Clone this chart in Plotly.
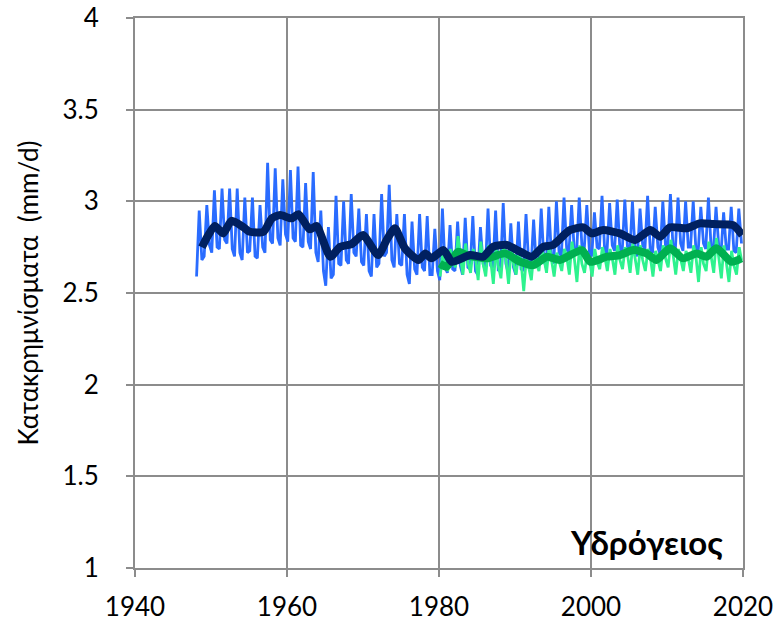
import plotly.graph_objects as go

# thin blue series (1948-2019): per-year early low, peak, late low
blue_start = 1948
blue_hi = [2.95, 2.98, 3.06, 3.07, 3.07, 3.07, 3.02, 3.02, 2.98, 3.21,
           3.18, 3.12, 3.17, 3.19, 3.10, 3.16, 2.95, 2.86, 3.03, 3.00,
           3.04, 2.96, 2.93, 2.93, 3.04, 3.09, 2.93, 2.93, 2.89, 2.93,
           2.92, 2.85, 2.96, 2.87, 2.89, 2.91, 2.92, 2.86, 2.96, 2.95,
           2.99, 2.88, 2.89, 2.93, 2.90, 2.96, 2.97, 3.00, 3.02, 2.98,
           3.02, 2.98, 2.94, 3.03, 2.99, 3.01, 3.01, 3.00, 2.96, 3.03,
           2.97, 3.00, 3.04, 3.02, 3.00, 3.00, 2.97, 3.02, 2.97, 2.94,
           2.97, 2.96]
blue_lo_a = [2.59, 2.70, 2.72, 2.74, 2.77, 2.70, 2.68, 2.73, 2.69, 2.72,
             2.77, 2.76, 2.78, 2.78, 2.75, 2.74, 2.67, 2.54, 2.60, 2.65,
             2.66, 2.70, 2.65, 2.59, 2.66, 2.72, 2.64, 2.65, 2.55, 2.60,
             2.62, 2.60, 2.57, 2.61, 2.62, 2.60, 2.63, 2.60, 2.62, 2.64,
             2.63, 2.61, 2.60, 2.62, 2.63, 2.65, 2.64, 2.66, 2.70, 2.72,
             2.71, 2.73, 2.70, 2.74, 2.72, 2.73, 2.72, 2.71, 2.70, 2.74,
             2.72, 2.71, 2.75, 2.74, 2.73, 2.75, 2.72, 2.74, 2.73, 2.71,
             2.74, 2.72]
blue_lo_b = [2.68, 2.76, 2.75, 2.79, 2.74, 2.72, 2.72, 2.70, 2.75, 2.79,
             2.80, 2.82, 2.80, 2.76, 2.78, 2.72, 2.62, 2.58, 2.66, 2.68,
             2.72, 2.67, 2.62, 2.64, 2.70, 2.68, 2.66, 2.60, 2.63, 2.64,
             2.60, 2.62, 2.64, 2.63, 2.65, 2.64, 2.62, 2.66, 2.65, 2.62,
             2.66, 2.64, 2.63, 2.66, 2.65, 2.68, 2.70, 2.72, 2.74, 2.73,
             2.76, 2.72, 2.75, 2.73, 2.76, 2.74, 2.75, 2.73, 2.76, 2.73,
             2.75, 2.76, 2.74, 2.77, 2.75, 2.74, 2.77, 2.75, 2.76, 2.74,
             2.73, 2.77]

# thin green series (1980-2019)
green_start = 1980
green_hi = [2.72, 2.74, 2.81, 2.77, 2.74, 2.78, 2.76, 2.75, 2.77, 2.74,
            2.72, 2.70, 2.73, 2.75, 2.76, 2.72, 2.74, 2.78, 2.76, 2.72,
            2.74, 2.75, 2.74, 2.76, 2.75, 2.77, 2.76, 2.74, 2.73, 2.76,
            2.79, 2.74, 2.73, 2.76, 2.75, 2.78, 2.80, 2.76, 2.73, 2.75]
green_lo = [2.59, 2.62, 2.64, 2.60, 2.61, 2.57, 2.59, 2.55, 2.58, 2.55,
            2.60, 2.51, 2.57, 2.62, 2.61, 2.59, 2.62, 2.60, 2.56, 2.61,
            2.59, 2.63, 2.62, 2.60, 2.63, 2.61, 2.60, 2.62, 2.59, 2.62,
            2.64, 2.60, 2.62, 2.61, 2.56, 2.62, 2.61, 2.58, 2.56, 2.60]
green_mid = [2.66, 2.68, 2.70, 2.67, 2.69, 2.66, 2.68, 2.65, 2.69, 2.66,
             2.67, 2.63, 2.66, 2.69, 2.68, 2.67, 2.70, 2.69, 2.66, 2.68,
             2.67, 2.70, 2.69, 2.68, 2.71, 2.69, 2.68, 2.70, 2.67, 2.69,
             2.71, 2.68, 2.69, 2.70, 2.66, 2.70, 2.69, 2.67, 2.65, 2.68]

# smoothed series
navy_t = [1948.8, 1950.5, 1951.6, 1952.7, 1954.3, 1955.1, 1956.9, 1958.0, 1959.1, 1960.6,
          1961.5, 1963.0, 1963.9, 1965.7, 1967.0, 1968.5, 1970.0, 1972.0, 1973.1, 1974.2,
          1975.5, 1977.3, 1978.2, 1979.0, 1980.6, 1981.7, 1984.1, 1985.8, 1987.1, 1988.9,
          1990.7, 1992.2, 1993.7, 1995.0, 1997.2, 1999.0, 2000.1, 2001.6, 2003.8, 2005.8,
          2007.8, 2009.1, 2010.4, 2012.6, 2014.3, 2016.1, 2018.7, 2019.9]
navy_v = [2.75, 2.865, 2.825, 2.894, 2.858, 2.834, 2.834, 2.907, 2.925, 2.907,
          2.93, 2.847, 2.865, 2.698, 2.752, 2.767, 2.816, 2.707, 2.789, 2.853,
          2.744, 2.68, 2.716, 2.689, 2.734, 2.67, 2.707, 2.698, 2.752, 2.762,
          2.725, 2.698, 2.752, 2.762, 2.843, 2.858, 2.825, 2.843, 2.825, 2.789,
          2.843, 2.807, 2.858, 2.853, 2.88, 2.876, 2.87, 2.816]

gsm_t = [1980.1, 1981.0, 1982.5, 1983.6, 1986.3, 1988.7, 1990.7, 1992.4, 1994.2, 1995.9,
         1998.8, 1999.9, 2002.1, 2003.8, 2005.6, 2007.3, 2008.6, 2010.4, 2012.1, 2013.9,
         2015.2, 2016.5, 2018.5, 2019.8]
gsm_v = [2.66, 2.643, 2.725, 2.707, 2.689, 2.716, 2.67, 2.652, 2.698, 2.68,
         2.734, 2.67, 2.698, 2.707, 2.734, 2.716, 2.68, 2.744, 2.689, 2.716,
         2.698, 2.744, 2.67, 2.689]


def zigzag(start, lists, offsets):
    xs, ys = [], []
    for i in range(len(lists[0])):
        for vals, off in zip(lists, offsets):
            xs.append(start + i + off)
            ys.append(vals[i])
    return xs, ys


bx, by = zigzag(blue_start, [blue_lo_a, blue_hi, blue_lo_b], [0.1, 0.45, 0.8])
gx, gy = zigzag(green_start, [green_lo, green_hi, green_mid], [0.15, 0.5, 0.8])

fig = go.Figure()
fig.add_trace(go.Scatter(x=bx, y=by, mode="lines",
                         line=dict(color="#2a6cff", width=2.8)))
fig.add_trace(go.Scatter(x=gx, y=gy, mode="lines",
                         line=dict(color="#2ef28e", width=2.8)))
fig.add_trace(go.Scatter(x=gsm_t, y=gsm_v, mode="lines",
                         line=dict(color="#00b050", width=8, shape="spline", smoothing=0.6)))
fig.add_trace(go.Scatter(x=navy_t, y=navy_v, mode="lines",
                         line=dict(color="#002060", width=8, shape="spline", smoothing=0.6)))

grid = "#8c8c8c"
fig.update_layout(
    width=782, height=625,
    margin=dict(l=135, r=39, t=18, b=57),
    plot_bgcolor="white", paper_bgcolor="white",
    showlegend=False,
    font=dict(family="Lato, Noto Sans, sans-serif", size=26, color="black"),
)
fig.update_xaxes(range=[1940, 2020], tickvals=[1940, 1960, 1980, 2000, 2020],
                 showgrid=True, gridcolor=grid, gridwidth=2,
                 showline=True, linecolor=grid, linewidth=2, mirror=True,
                 ticks="outside", ticklen=7, tickcolor=grid, tickwidth=2,
                 zeroline=False, tickfont=dict(size=26), automargin=False,
                 ticklabelstandoff=8, ticklabeloverflow="allow")
fig.update_yaxes(range=[1, 4], tickvals=[1, 1.5, 2, 2.5, 3, 3.5, 4],
                 ticktext=["1", "1.5", "2", "2.5", "3", "3.5", "4"],
                 showgrid=True, gridcolor=grid, gridwidth=2,
                 showline=True, linecolor=grid, linewidth=2, mirror=True,
                 ticks="outside", ticklen=7, tickcolor=grid, tickwidth=2,
                 zeroline=False, tickfont=dict(size=26), automargin=False,
                 ticklabelstandoff=22, ticklabeloverflow="allow",
                 title=dict(text="Κατακρημνίσματα  (mm/d)", font=dict(size=26), standoff=16))
fig.add_annotation(text="<b>Υδρόγειος</b>", xref="paper", yref="paper",
                   x=0.97, y=0.047, xanchor="right", yanchor="middle",
                   showarrow=False, font=dict(size=33, color="black"))

# the page's default body margin would shift the figure by 8px
fig.write_html("out.html", config={"displayModeBar": False},
               post_script="document.body.style.margin='0';")
